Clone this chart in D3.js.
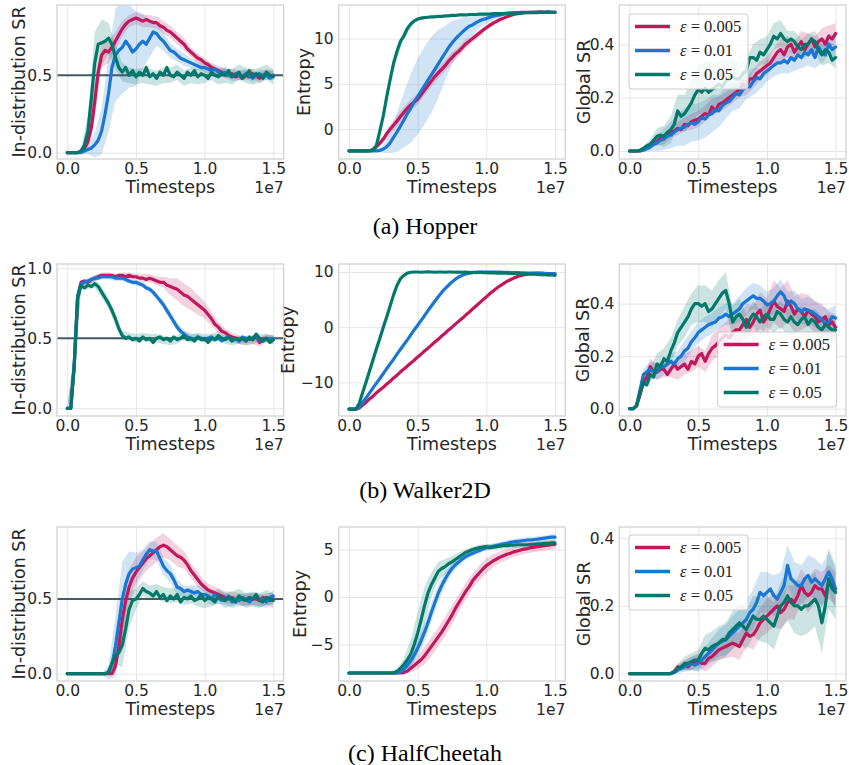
<!DOCTYPE html>
<html><head><meta charset="utf-8">
<script src="https://cdn.jsdelivr.net/npm/d3@7"></script>
<style>body{margin:0;background:#fff}svg{display:block}</style>
</head><body>
<svg id="chart" width="849" height="765"></svg>
<script>
// ---------- DATA (timesteps in units of 1e7) ----------
const timesteps = [0,0.025,0.05,0.075,0.1,0.125,0.15,0.175,0.2,0.225,
 0.25,0.275,0.3,0.325,0.35,0.375,0.4,0.425,0.45,0.475,
 0.5,0.525,0.55,0.575,0.6,0.625,0.65,0.675,0.7,0.725,
 0.75,0.775,0.8,0.825,0.85,0.875,0.9,0.925,0.95,0.975,
 1.0,1.025,1.05,1.075,1.1,1.125,1.15,1.175,1.2,1.225,
 1.25,1.275,1.3,1.325,1.35,1.375,1.4,1.425,1.45,1.475,
 1.5];
const bandTimesteps = [0,0.05,0.1,0.15,0.2,0.25,0.3,0.35,0.4,0.45,
 0.5,0.55,0.6,0.65,0.7,0.75,0.8,0.85,0.9,0.95,
 1.0,1.05,1.1,1.15,1.2,1.25,1.3,1.35,1.4,1.45,1.5];
const seriesEps = ["0.005","0.01","0.05"];
const seriesColors = ["#C2185B","#1976D2","#00796B"];
const xTickValues = [0,0.5,1.0,1.5];
const xTickLabels = ["0.0","0.5","1.0","1.5"];
const captions = ["(a) Hopper","(b) Walker2D","(c) HalfCheetah"];

// Hopper: in-distribution SR
const hopperInd005 = [0,0,0,0,0.01,0.03,0.07,0.16,0.33,0.52,
 0.63,0.66,0.65,0.68,0.72,0.76,0.80,0.83,0.85,0.86,
 0.87,0.86,0.85,0.86,0.85,0.84,0.84,0.82,0.81,0.79,
 0.78,0.76,0.74,0.72,0.70,0.67,0.65,0.63,0.61,0.60,
 0.58,0.57,0.55,0.54,0.53,0.52,0.51,0.50,0.51,0.49,
 0.50,0.48,0.50,0.49,0.51,0.50,0.48,0.50,0.51,0.49,
 0.50];
const hopperInd001 = [0,0,0,0,0,0.01,0.02,0.03,0.05,0.08,
 0.14,0.25,0.38,0.55,0.63,0.66,0.68,0.72,0.69,0.65,
 0.67,0.70,0.72,0.70,0.74,0.78,0.77,0.74,0.72,0.69,
 0.66,0.65,0.63,0.61,0.60,0.59,0.58,0.57,0.56,0.55,
 0.55,0.54,0.53,0.54,0.52,0.51,0.52,0.50,0.49,0.51,
 0.50,0.49,0.51,0.50,0.48,0.50,0.51,0.49,0.50,0.48,
 0.50];
const hopperInd05 = [0,0,0,0,0.01,0.05,0.14,0.35,0.58,0.70,
 0.71,0.72,0.74,0.70,0.62,0.55,0.52,0.55,0.50,0.53,
 0.49,0.52,0.50,0.55,0.49,0.51,0.48,0.52,0.50,0.55,
 0.50,0.49,0.52,0.50,0.48,0.52,0.50,0.53,0.49,0.51,
 0.50,0.48,0.52,0.50,0.49,0.51,0.50,0.53,0.49,0.50,
 0.52,0.48,0.50,0.53,0.49,0.51,0.50,0.48,0.52,0.50,
 0.49];
const hopperInd005Band = [0,0,0.01,0.05,0.12,0.08,0.07,0.06,0.05,0.04,
 0.04,0.04,0.04,0.04,0.04,0.04,0.04,0.04,0.03,0.03,
 0.03,0.03,0.03,0.03,0.03,0.03,0.03,0.03,0.03,0.03,0.03];
const hopperInd001Band = [0,0,0.01,0.03,0.08,0.15,0.25,0.30,0.30,0.27,
 0.24,0.18,0.12,0.08,0.06,0.05,0.04,0.04,0.03,0.03,
 0.03,0.03,0.03,0.03,0.03,0.03,0.03,0.03,0.03,0.03,0.03];
const hopperInd05Band = [0,0,0.02,0.10,0.20,0.15,0.10,0.08,0.06,0.05,
 0.05,0.05,0.05,0.05,0.05,0.05,0.05,0.05,0.05,0.05,
 0.05,0.05,0.05,0.05,0.05,0.05,0.05,0.05,0.05,0.05,0.05];

// Hopper: entropy
const hopperEnt005 = [-2.4,-2.4,-2.4,-2.4,-2.4,-2.4,-2.4,-2.25,-1.95,-1.55,
 -1.1,-0.5,0.0,0.45,0.9,1.4,1.85,2.3,2.7,3.0,
 3.3,3.8,4.3,4.8,5.3,5.8,6.2,6.6,7.0,7.5,
 7.9,8.3,8.6,9.0,9.4,9.7,10.0,10.3,10.6,10.9,
 11.2,11.45,11.7,11.9,12.1,12.25,12.4,12.55,12.65,12.75,
 12.8,12.85,12.9,12.9,12.9,12.9,12.95,12.9,12.95,12.9,
 12.9];
const hopperEnt001 = [-2.4,-2.4,-2.4,-2.4,-2.4,-2.4,-2.4,-2.4,-2.4,-2.35,
 -2.2,-1.95,-1.5,-0.9,-0.3,0.35,1.0,1.7,2.3,3.0,
 3.6,4.2,4.8,5.4,6.0,6.6,7.2,7.8,8.4,9.0,
 9.5,9.95,10.35,10.7,11.05,11.35,11.5,11.75,11.95,12.1,
 12.2,12.35,12.45,12.55,12.6,12.7,12.75,12.8,12.85,12.85,
 12.9,12.9,12.85,12.9,12.9,12.95,12.9,12.9,12.95,12.9,
 12.9];
const hopperEnt05 = [-2.4,-2.4,-2.4,-2.4,-2.4,-2.4,-2.4,-2.3,-1.8,-0.2,
 1.5,3.6,5.5,7.3,8.6,9.7,10.3,11.1,11.6,11.95,
 12.15,12.25,12.3,12.35,12.4,12.4,12.45,12.45,12.5,12.5,
 12.55,12.55,12.6,12.6,12.6,12.65,12.65,12.65,12.7,12.7,
 12.7,12.7,12.75,12.75,12.75,12.75,12.8,12.8,12.8,12.8,
 12.8,12.85,12.85,12.85,12.85,12.85,12.9,12.9,12.9,12.9,
 12.9];
const hopperEnt005Band = [0,0,0,0.05,0.2,0.4,0.5,0.6,0.6,0.6,
 0.6,0.6,0.6,0.6,0.6,0.6,0.5,0.5,0.4,0.4,
 0.3,0.3,0.2,0.15,0.1,0.1,0.1,0.1,0.1,0.1,0.1];
const hopperEnt001Band = [0,0,0,0,0.1,0.4,1.2,2.2,3.0,3.8,
 4.2,4.3,4.2,3.8,3.0,2.4,1.8,1.4,1.1,0.8,
 0.6,0.4,0.25,0.1,0.1,0.1,0.1,0.1,0.1,0.1,0.1];
const hopperEnt05Band = [0,0,0,0.1,0.4,0.6,0.6,0.7,0.5,0.3,
 0.2,0.15,0.1,0.1,0.1,0.1,0.1,0.1,0.1,0.1,
 0.1,0.1,0.1,0.1,0.1,0.1,0.1,0.1,0.1,0.1,0.1];

// Hopper: global SR
const hopperGlob005 = [0,0,0,0,0.005,0.01,0.02,0.03,0.035,0.05,
 0.045,0.06,0.07,0.075,0.085,0.08,0.1,0.095,0.11,0.115,
 0.12,0.13,0.14,0.135,0.165,0.15,0.175,0.18,0.19,0.2,
 0.21,0.22,0.23,0.25,0.24,0.27,0.27,0.29,0.3,0.31,
 0.32,0.33,0.35,0.37,0.38,0.36,0.39,0.4,0.37,0.39,
 0.41,0.38,0.4,0.42,0.39,0.41,0.42,0.4,0.43,0.42,
 0.44];
const hopperGlob001 = [0,0,0,0,0.003,0.008,0.015,0.025,0.03,0.04,
 0.045,0.055,0.06,0.07,0.08,0.085,0.09,0.1,0.105,0.1,
 0.11,0.125,0.12,0.135,0.14,0.155,0.15,0.17,0.18,0.185,
 0.2,0.215,0.21,0.23,0.245,0.24,0.26,0.275,0.27,0.29,
 0.3,0.31,0.32,0.33,0.33,0.34,0.33,0.35,0.34,0.36,
 0.35,0.37,0.36,0.38,0.35,0.39,0.37,0.36,0.4,0.38,
 0.39];
const hopperGlob05 = [0,0,0,0.003,0.01,0.02,0.025,0.04,0.055,0.06,
 0.055,0.07,0.08,0.1,0.15,0.13,0.14,0.16,0.18,0.21,
 0.23,0.22,0.235,0.22,0.23,0.24,0.25,0.24,0.26,0.27,
 0.28,0.27,0.27,0.29,0.3,0.35,0.35,0.34,0.37,0.36,
 0.38,0.4,0.43,0.42,0.44,0.42,0.41,0.42,0.41,0.39,
 0.38,0.4,0.4,0.42,0.41,0.38,0.36,0.38,0.37,0.34,
 0.35];
const hopperGlob005Band = [0,0,0.005,0.01,0.015,0.02,0.02,0.025,0.025,0.03,
 0.03,0.03,0.03,0.03,0.03,0.03,0.03,0.03,0.035,0.035,
 0.035,0.035,0.04,0.04,0.04,0.04,0.04,0.04,0.04,0.04,0.04];
const hopperGlob001Band = [0,0,0.005,0.015,0.03,0.04,0.05,0.06,0.07,0.07,
 0.07,0.07,0.07,0.06,0.06,0.05,0.05,0.05,0.05,0.04,
 0.04,0.04,0.04,0.04,0.04,0.04,0.04,0.04,0.04,0.04,0.04];
const hopperGlob05Band = [0,0,0.005,0.02,0.03,0.04,0.05,0.06,0.07,0.08,
 0.09,0.1,0.1,0.09,0.08,0.07,0.06,0.05,0.05,0.05,
 0.05,0.05,0.05,0.04,0.04,0.04,0.04,0.04,0.04,0.04,0.04];

// Walker2D: in-distribution SR
const walkerInd005 = [0,0,0.3,0.8,0.9,0.91,0.9,0.92,0.93,0.94,
 0.95,0.95,0.95,0.95,0.94,0.95,0.95,0.94,0.95,0.94,
 0.94,0.93,0.93,0.92,0.93,0.92,0.91,0.9,0.9,0.88,
 0.87,0.86,0.85,0.83,0.81,0.8,0.78,0.76,0.74,0.72,
 0.7,0.67,0.64,0.6,0.58,0.55,0.54,0.52,0.51,0.5,
 0.49,0.5,0.48,0.5,0.49,0.52,0.47,0.49,0.5,0.48,
 0.49];
const walkerInd001 = [0,0,0.3,0.8,0.89,0.9,0.91,0.92,0.93,0.93,
 0.94,0.94,0.94,0.94,0.93,0.93,0.93,0.92,0.91,0.9,
 0.9,0.89,0.88,0.86,0.85,0.83,0.8,0.77,0.74,0.7,
 0.66,0.62,0.58,0.55,0.53,0.51,0.5,0.49,0.51,0.5,
 0.49,0.5,0.51,0.49,0.5,0.48,0.5,0.51,0.49,0.5,
 0.48,0.51,0.5,0.49,0.5,0.52,0.49,0.48,0.5,0.49,
 0.5];
const walkerInd05 = [0,0,0.3,0.78,0.88,0.86,0.88,0.87,0.89,0.87,
 0.83,0.79,0.75,0.7,0.64,0.57,0.52,0.5,0.51,0.49,
 0.5,0.48,0.51,0.49,0.5,0.47,0.5,0.51,0.49,0.5,
 0.48,0.51,0.49,0.5,0.52,0.49,0.5,0.48,0.51,0.49,
 0.5,0.47,0.5,0.49,0.52,0.5,0.49,0.51,0.48,0.5,
 0.49,0.5,0.48,0.51,0.49,0.53,0.5,0.48,0.5,0.47,
 0.49];
const walkerInd005Band = [0,0.1,0.02,0.02,0.02,0.02,0.02,0.02,0.02,0.02,
 0.02,0.03,0.03,0.03,0.04,0.06,0.08,0.08,0.08,0.07,
 0.06,0.05,0.04,0.03,0.03,0.03,0.03,0.03,0.03,0.03,0.03];
const walkerInd001Band = [0,0.1,0.02,0.02,0.02,0.02,0.02,0.02,0.02,0.02,
 0.02,0.02,0.02,0.02,0.03,0.03,0.03,0.03,0.03,0.02,
 0.02,0.02,0.02,0.02,0.02,0.02,0.02,0.02,0.02,0.02,0.02];
const walkerInd05Band = [0,0.1,0.03,0.03,0.03,0.04,0.04,0.04,0.03,0.03,
 0.03,0.03,0.03,0.03,0.03,0.03,0.03,0.03,0.03,0.03,
 0.03,0.03,0.03,0.03,0.03,0.03,0.03,0.03,0.03,0.03,0.03];

// Walker2D: entropy
const walkerEnt005 = [-14.85,-14.85,-14.85,-14.65,-14.1,-13.6,-13.0,-12.5,-11.9,-11.4,
 -10.9,-10.3,-9.8,-9.2,-8.7,-8.1,-7.6,-7.05,-6.5,-6.0,
 -5.4,-4.9,-4.3,-3.8,-3.25,-2.7,-2.2,-1.6,-1.1,-0.5,
 0.0,0.55,1.1,1.6,2.2,2.7,3.3,3.85,4.4,4.95,
 5.5,6.05,6.55,7.05,7.5,7.9,8.3,8.6,8.9,9.15,
 9.35,9.5,9.6,9.7,9.75,9.8,9.8,9.75,9.7,9.65,
 9.6];
const walkerEnt001 = [-14.85,-14.85,-14.85,-14.5,-13.65,-12.8,-11.9,-11.0,-10.15,-9.3,
 -8.4,-7.5,-6.65,-5.8,-4.9,-4.0,-3.15,-2.3,-1.4,-0.5,
 0.35,1.2,2.1,3.0,3.85,4.7,5.5,6.3,7.0,7.6,
 8.2,8.7,9.1,9.4,9.65,9.8,9.9,9.95,10.0,10.0,
 10.0,10.0,10.0,10.0,10.0,9.95,9.95,9.9,9.9,9.9,
 9.85,9.85,9.8,9.8,9.8,9.75,9.75,9.7,9.7,9.7,
 9.7];
const walkerEnt05 = [-14.85,-14.85,-14.85,-13.8,-11.8,-9.9,-7.9,-5.9,-3.9,-2.0,
 0.0,1.9,3.9,5.9,7.6,8.8,9.4,9.8,9.95,10.0,
 10.0,9.95,10.0,10.05,10.0,9.95,10.0,10.0,9.95,10.0,
 10.0,9.95,10.0,9.95,10.0,9.9,9.95,9.9,9.95,9.9,
 9.9,9.85,9.9,9.8,9.85,9.8,9.8,9.75,9.7,9.75,
 9.7,9.65,9.7,9.6,9.6,9.55,9.5,9.55,9.45,9.5,
 9.4];
const walkerEnt005Band = [0,0,0.05,0.1,0.15,0.15,0.15,0.15,0.15,0.15,
 0.15,0.15,0.15,0.15,0.15,0.15,0.15,0.15,0.15,0.15,
 0.15,0.15,0.15,0.15,0.15,0.15,0.15,0.15,0.15,0.15,0.15];
const walkerEnt001Band = [0,0,0.05,0.1,0.15,0.15,0.15,0.15,0.15,0.15,
 0.15,0.15,0.15,0.15,0.15,0.15,0.15,0.15,0.15,0.15,
 0.15,0.15,0.15,0.15,0.15,0.15,0.15,0.15,0.15,0.15,0.15];
const walkerEnt05Band = [0,0,0.1,0.2,0.2,0.2,0.2,0.2,0.15,0.15,
 0.15,0.15,0.15,0.15,0.15,0.15,0.15,0.15,0.15,0.15,
 0.2,0.2,0.2,0.2,0.2,0.25,0.25,0.25,0.25,0.25,0.25];

// Walker2D: global SR
const walkerGlob005 = [0,0,0.01,0.05,0.1,0.12,0.16,0.14,0.14,0.15,
 0.15,0.13,0.15,0.17,0.15,0.16,0.17,0.15,0.18,0.17,
 0.2,0.21,0.18,0.21,0.23,0.24,0.255,0.27,0.28,0.27,
 0.29,0.3,0.3,0.32,0.34,0.31,0.33,0.36,0.375,0.33,
 0.35,0.38,0.41,0.39,0.38,0.37,0.41,0.39,0.36,0.38,
 0.37,0.35,0.375,0.36,0.35,0.33,0.34,0.35,0.32,0.33,
 0.31];
const walkerGlob001 = [0,0,0.01,0.07,0.13,0.14,0.15,0.14,0.14,0.16,
 0.16,0.17,0.18,0.17,0.19,0.2,0.22,0.23,0.255,0.27,
 0.29,0.3,0.31,0.32,0.325,0.33,0.345,0.35,0.36,0.35,
 0.36,0.37,0.38,0.4,0.41,0.42,0.43,0.42,0.42,0.41,
 0.395,0.4,0.41,0.43,0.445,0.43,0.395,0.41,0.4,0.38,
 0.37,0.38,0.375,0.37,0.36,0.35,0.34,0.32,0.33,0.35,
 0.345];
const walkerGlob05 = [0,0,0.01,0.06,0.1,0.09,0.13,0.12,0.17,0.16,
 0.19,0.18,0.22,0.25,0.29,0.31,0.33,0.35,0.38,0.4,
 0.4,0.39,0.4,0.37,0.38,0.4,0.42,0.44,0.45,0.4,
 0.33,0.35,0.36,0.34,0.31,0.34,0.36,0.35,0.33,0.35,
 0.36,0.34,0.34,0.37,0.36,0.34,0.33,0.35,0.33,0.32,
 0.34,0.35,0.32,0.34,0.33,0.31,0.3,0.32,0.31,0.3,
 0.3];
const walkerGlob005Band = [0,0,0.02,0.03,0.03,0.03,0.03,0.04,0.04,0.04,
 0.04,0.04,0.05,0.05,0.05,0.06,0.06,0.06,0.06,0.07,
 0.07,0.08,0.08,0.08,0.07,0.07,0.06,0.06,0.06,0.05,0.05];
const walkerGlob001Band = [0,0,0.02,0.03,0.03,0.03,0.03,0.03,0.04,0.04,
 0.04,0.04,0.04,0.04,0.04,0.04,0.05,0.05,0.05,0.05,
 0.05,0.05,0.05,0.05,0.05,0.05,0.05,0.05,0.05,0.05,0.05];
const walkerGlob05Band = [0,0,0.02,0.03,0.04,0.04,0.05,0.05,0.06,0.06,
 0.07,0.07,0.07,0.07,0.07,0.06,0.06,0.05,0.05,0.05,
 0.05,0.05,0.05,0.05,0.05,0.05,0.05,0.05,0.05,0.05,0.05];

// HalfCheetah: in-distribution SR
const cheetahInd005 = [0,0,0,0,0,0,0,0,0,0,
 0,0,0,0,0.05,0.18,0.36,0.49,0.58,0.64,
 0.68,0.71,0.74,0.77,0.79,0.81,0.83,0.85,0.86,0.85,
 0.83,0.81,0.79,0.78,0.76,0.73,0.69,0.66,0.63,0.6,
 0.58,0.56,0.55,0.54,0.53,0.52,0.51,0.5,0.51,0.49,
 0.5,0.5,0.49,0.51,0.5,0.5,0.49,0.51,0.5,0.49,
 0.5];
const cheetahInd001 = [0,0,0,0,0,0,0,0,0,0,
 0,0,0.01,0.06,0.18,0.34,0.5,0.6,0.67,0.7,
 0.71,0.72,0.76,0.8,0.83,0.82,0.82,0.77,0.72,0.69,
 0.67,0.63,0.58,0.57,0.55,0.56,0.55,0.54,0.55,0.53,
 0.53,0.52,0.5,0.53,0.51,0.49,0.5,0.52,0.48,0.5,
 0.49,0.51,0.5,0.48,0.5,0.52,0.49,0.5,0.48,0.51,
 0.52];
const cheetahInd05 = [0,0,0,0,0,0,0,0,0,0,
 0,0,0.01,0.07,0.12,0.14,0.19,0.3,0.43,0.49,
 0.5,0.53,0.57,0.55,0.54,0.52,0.55,0.51,0.53,0.49,
 0.52,0.5,0.53,0.48,0.51,0.5,0.52,0.49,0.5,0.53,
 0.49,0.51,0.5,0.48,0.52,0.5,0.49,0.51,0.5,0.48,
 0.52,0.5,0.49,0.51,0.5,0.53,0.49,0.48,0.51,0.5,
 0.49];
const cheetahInd005Band = [0,0,0,0,0,0,0,0.05,0.15,0.12,
 0.1,0.08,0.08,0.08,0.08,0.07,0.07,0.06,0.05,0.05,
 0.04,0.04,0.04,0.04,0.04,0.04,0.04,0.04,0.04,0.04,0.04];
const cheetahInd001Band = [0,0,0,0,0,0,0.05,0.2,0.25,0.15,
 0.1,0.07,0.06,0.06,0.06,0.06,0.05,0.04,0.04,0.04,
 0.04,0.04,0.04,0.04,0.04,0.04,0.04,0.04,0.04,0.04,0.04];
const cheetahInd05Band = [0,0,0,0,0,0,0.02,0.05,0.15,0.12,
 0.07,0.05,0.05,0.05,0.05,0.05,0.05,0.05,0.05,0.05,
 0.05,0.05,0.05,0.05,0.05,0.05,0.05,0.05,0.05,0.05,0.05];

// HalfCheetah: entropy
const cheetahEnt005 = [-8,-8,-8,-8,-8,-8,-8,-8,-8,-8,
 -8,-8,-8,-8,-8,-8,-7.95,-7.8,-7.5,-7.2,
 -6.9,-6.6,-6.2,-5.7,-5.2,-4.7,-4.2,-3.7,-3.1,-2.5,
 -1.9,-1.2,-0.6,0.0,0.6,1.1,1.7,2.15,2.55,2.95,
 3.3,3.55,3.8,4.0,4.2,4.35,4.5,4.6,4.75,4.85,
 4.95,5.05,5.1,5.2,5.25,5.3,5.35,5.4,5.45,5.5,
 5.55];
const cheetahEnt001 = [-8,-8,-8,-8,-8,-8,-8,-8,-8,-8,
 -8,-8,-8,-8,-8,-7.9,-7.6,-7.2,-6.7,-6.1,
 -5.4,-4.6,-3.7,-2.7,-1.6,-0.6,0.4,1.2,1.9,2.5,
 3.0,3.4,3.7,4.0,4.25,4.45,4.6,4.75,4.9,5.05,
 5.2,5.25,5.35,5.45,5.5,5.6,5.65,5.75,5.8,5.85,
 5.9,5.95,6.0,6.0,6.05,6.1,6.15,6.2,6.25,6.3,
 6.3];
const cheetahEnt05 = [-8,-8,-8,-8,-8,-8,-8,-8,-8,-8,
 -8,-8,-8,-8,-7.8,-7.5,-7.1,-6.6,-6.0,-5.0,
 -3.8,-2.4,-0.9,0.4,1.3,2.0,2.7,3.0,3.2,3.5,
 3.7,3.95,4.2,4.45,4.7,4.85,5.0,5.1,5.2,5.25,
 5.3,5.2,5.25,5.3,5.35,5.4,5.4,5.45,5.45,5.5,
 5.5,5.5,5.5,5.55,5.55,5.6,5.6,5.65,5.65,5.7,
 5.7];
const cheetahEnt005Band = [0,0,0,0,0,0,0,0,0.1,0.4,
 0.7,0.9,1.0,1.0,1.0,1.0,0.9,0.9,0.8,0.8,
 0.8,0.7,0.6,0.6,0.5,0.5,0.5,0.5,0.5,0.5,0.5];
const cheetahEnt001Band = [0,0,0,0,0,0,0,0,0.2,0.5,
 0.8,1.0,1.0,0.9,0.7,0.5,0.4,0.3,0.3,0.3,
 0.3,0.3,0.3,0.3,0.3,0.3,0.3,0.3,0.3,0.3,0.3];
const cheetahEnt05Band = [0,0,0,0,0,0,0,0.2,0.7,1.5,
 2.2,2.0,1.3,1.0,0.8,0.6,0.5,0.3,0.3,0.3,
 0.3,0.3,0.3,0.3,0.3,0.3,0.3,0.3,0.3,0.3,0.3];

// HalfCheetah: global SR
const cheetahGlob005 = [0,0,0,0,0,0,0,0,0,0,
 0,0,0,0.005,0.02,0.015,0.025,0.02,0.03,0.035,
 0.04,0.03,0.03,0.045,0.05,0.06,0.07,0.075,0.08,0.085,
 0.09,0.085,0.08,0.1,0.12,0.11,0.115,0.13,0.15,0.16,
 0.17,0.18,0.19,0.2,0.18,0.19,0.21,0.22,0.21,0.23,
 0.26,0.24,0.23,0.24,0.26,0.25,0.25,0.23,0.27,0.26,
 0.25];
const cheetahGlob001 = [0,0,0,0,0,0,0,0,0,0,
 0,0,0,0.003,0.01,0.015,0.02,0.025,0.03,0.025,
 0.03,0.04,0.05,0.06,0.07,0.08,0.09,0.095,0.1,0.11,
 0.12,0.13,0.14,0.15,0.16,0.18,0.19,0.21,0.24,0.23,
 0.24,0.25,0.23,0.22,0.24,0.26,0.32,0.28,0.27,0.26,
 0.26,0.28,0.29,0.27,0.28,0.27,0.26,0.28,0.3,0.28,
 0.25];
const cheetahGlob05 = [0,0,0,0,0,0,0,0,0,0,
 0,0,0,0.005,0.015,0.02,0.03,0.03,0.035,0.04,
 0.04,0.06,0.075,0.07,0.08,0.085,0.09,0.1,0.1,0.12,
 0.13,0.14,0.15,0.14,0.13,0.15,0.17,0.16,0.16,0.17,
 0.16,0.15,0.14,0.17,0.2,0.21,0.23,0.21,0.2,0.2,
 0.19,0.2,0.2,0.21,0.22,0.2,0.15,0.2,0.28,0.25,
 0.24];
const cheetahGlob005Band = [0,0,0,0,0,0,0.005,0.01,0.015,0.02,
 0.02,0.025,0.03,0.03,0.035,0.04,0.04,0.04,0.045,0.045,
 0.05,0.05,0.05,0.05,0.05,0.05,0.05,0.05,0.05,0.05,0.05];
const cheetahGlob001Band = [0,0,0,0,0,0,0.005,0.01,0.015,0.02,
 0.025,0.03,0.035,0.04,0.045,0.05,0.05,0.055,0.06,0.06,
 0.06,0.06,0.06,0.06,0.06,0.06,0.06,0.06,0.06,0.06,0.06];
const cheetahGlob05Band = [0,0,0,0,0,0,0.005,0.01,0.02,0.025,
 0.03,0.04,0.045,0.05,0.05,0.055,0.06,0.06,0.06,0.065,
 0.07,0.07,0.07,0.075,0.08,0.08,0.08,0.08,0.09,0.09,0.08];

// y-axis tick values per kind
const srTicks = [0, 0.5];
const walkerSrTicks = [0, 0.5, 1.0];
const globTicks = [0, 0.2, 0.4];
const hopperEntTicks = [0, 5, 10];
const walkerEntTicks = [-10, 0, 10];
const cheetahEntTicks = [-5, 0, 5];

// ---------- LAYOUT ----------
const W = 849, H = 765;
const colLeft = [57, 338.7, 619.3], axW = 226.6;
const rowTop = [5, 264, 527], rowBottom = [159, 416, 681];
const tickFont = "'DejaVu Sans', sans-serif";
const textColor = "#262626";

const panels = [
 {r:0,c:0,m:[hopperInd005,hopperInd001,hopperInd05],b:[hopperInd005Band,hopperInd001Band,hopperInd05Band],dom:[-0.041,0.954],ticks:srTicks,fmt:".1f",lab:"In-distribution SR",labX:25,ref:0.5},
 {r:0,c:1,m:[hopperEnt005,hopperEnt001,hopperEnt05],b:[hopperEnt005Band,hopperEnt001Band,hopperEnt05Band],dom:[-3.3,13.7],ticks:hopperEntTicks,fmt:"d",lab:"Entropy",labX:309.5},
 {r:0,c:2,m:[hopperGlob005,hopperGlob001,hopperGlob05],b:[hopperGlob005Band,hopperGlob001Band,hopperGlob05Band],dom:[-0.03,0.547],ticks:globTicks,fmt:".1f",lab:"Global SR",labX:590,legend:{x:629,y:14}},
 {r:1,c:0,m:[walkerInd005,walkerInd001,walkerInd05],b:[walkerInd005Band,walkerInd001Band,walkerInd05Band],dom:[-0.055,1.031],ticks:walkerSrTicks,fmt:".1f",lab:"In-distribution SR",labX:25,ref:0.5},
 {r:1,c:1,m:[walkerEnt005,walkerEnt001,walkerEnt05],b:[walkerEnt005Band,walkerEnt001Band,walkerEnt05Band],dom:[-16.1,11.45],ticks:walkerEntTicks,fmt:"d",lab:"Entropy",labX:294},
 {r:1,c:2,m:[walkerGlob005,walkerGlob001,walkerGlob05],b:[walkerGlob005Band,walkerGlob001Band,walkerGlob05Band],dom:[-0.028,0.551],ticks:globTicks,fmt:".1f",lab:"Global SR",labX:588.5,legend:{x:717.7,y:332}},
 {r:2,c:0,m:[cheetahInd005,cheetahInd001,cheetahInd05],b:[cheetahInd005Band,cheetahInd001Band,cheetahInd05Band],dom:[-0.049,0.982],ticks:srTicks,fmt:".1f",lab:"In-distribution SR",labX:25,ref:0.5},
 {r:2,c:1,m:[cheetahEnt005,cheetahEnt001,cheetahEnt05],b:[cheetahEnt005Band,cheetahEnt001Band,cheetahEnt05Band],dom:[-8.84,7.37],ticks:cheetahEntTicks,fmt:"d",lab:"Entropy",labX:306},
 {r:2,c:2,m:[cheetahGlob005,cheetahGlob001,cheetahGlob05],b:[cheetahGlob005Band,cheetahGlob001Band,cheetahGlob05Band],dom:[-0.022,0.433],ticks:globTicks,fmt:".1f",lab:"Global SR",labX:590,legend:{x:629,y:535}}
];

const svg = d3.select("#chart");
svg.append("rect").attr("width", W).attr("height", H).attr("fill", "#fff");
const defs = svg.append("defs");

panels.forEach((p, k) => {
  const x0 = colLeft[p.c], y0 = rowTop[p.r], y1 = rowBottom[p.r];
  const x = d3.scaleLinear().domain([-0.075, 1.575]).range([x0, x0 + axW]);
  const y = d3.scaleLinear().domain(p.dom).range([y1, y0]);
  const g = svg.append("g");
  const cid = "clip" + k;
  defs.append("clipPath").attr("id", cid).append("rect")
    .attr("x", x0).attr("y", y0).attr("width", axW).attr("height", y1 - y0);

  // x axis + vertical grid
  const gx = g.append("g").attr("transform", `translate(0,${y1})`)
    .call(d3.axisBottom(x).tickValues(xTickValues)
      .tickFormat((d, i) => xTickLabels[i]).tickSize(-(y1 - y0)).tickPadding(4));
  // y axis + horizontal grid
  const gy = g.append("g").attr("transform", `translate(${x0},0)`)
    .call(d3.axisLeft(y).tickValues(p.ticks).tickFormat(d3.format(p.fmt))
      .tickSize(-axW).tickPadding(5));
  [gx, gy].forEach(a => {
    a.select(".domain").remove();
    a.selectAll(".tick line").attr("stroke", "#e6e6e6").attr("stroke-width", 1);
    a.selectAll(".tick text").attr("fill", textColor)
      .style("font-family", tickFont).style("font-size", "15.5px");
  });

  const plot = g.append("g").attr("clip-path", `url(#${cid})`);
  // bands
  p.m.forEach((mean, s) => {
    const band = p.b[s];
    const area = d3.area()
      .x((d, i) => x(bandTimesteps[i]))
      .y0((d, i) => y(mean[2 * i] - band[i]))
      .y1((d, i) => y(mean[2 * i] + band[i]));
    plot.append("path").datum(band).attr("d", area)
      .attr("fill", seriesColors[s]).attr("fill-opacity", 0.2);
  });
  // reference line
  if (p.ref !== undefined) {
    plot.append("line").attr("x1", x0).attr("x2", x0 + axW)
      .attr("y1", y(p.ref)).attr("y2", y(p.ref))
      .attr("stroke", "#455A64").attr("stroke-width", 2);
  }
  // mean lines
  p.m.forEach((mean, s) => {
    const line = d3.line().x((d, i) => x(timesteps[i])).y(d => y(d));
    plot.append("path").datum(mean).attr("d", line)
      .attr("fill", "none").attr("stroke", seriesColors[s])
      .attr("stroke-width", 3.2).attr("stroke-linejoin", "round").attr("stroke-linecap", "round");
  });
  // frame
  g.append("rect").attr("x", x0).attr("y", y0).attr("width", axW).attr("height", y1 - y0)
    .attr("fill", "none").attr("stroke", "#d2d2d2").attr("stroke-width", 1.3);

  // labels
  g.append("text").attr("x", x0 + axW / 2).attr("y", y1 + 34)
    .attr("text-anchor", "middle").attr("fill", textColor)
    .style("font-family", tickFont).style("font-size", "17.5px").text("Timesteps");
  g.append("text").attr("x", x0 + axW).attr("y", y1 + 34)
    .attr("text-anchor", "end").attr("fill", textColor)
    .style("font-family", tickFont).style("font-size", "15.5px").text("1e7");
  g.append("text").attr("transform", `translate(${p.labX},${(y0 + y1) / 2}) rotate(-90)`)
    .attr("text-anchor", "middle").attr("fill", textColor)
    .style("font-family", tickFont).style("font-size", "17.5px").text(p.lab);

  // legend
  if (p.legend) {
    const L = g.append("g").attr("transform", `translate(${p.legend.x},${p.legend.y})`);
    L.append("rect").attr("width", 119).attr("height", 75).attr("rx", 3)
      .attr("fill", "#fff").attr("fill-opacity", 0.8)
      .attr("stroke", "#cccccc").attr("stroke-width", 1);
    seriesEps.forEach((e, s) => {
      const ey = 12.5 + s * 24;
      L.append("line").attr("x1", 6).attr("x2", 41).attr("y1", ey).attr("y2", ey)
        .attr("stroke", seriesColors[s]).attr("stroke-width", 3.5);
      const t = L.append("text").attr("x", 51).attr("y", ey + 5.5)
        .attr("fill", "#1a1a1a").style("font-family", "'Liberation Serif', 'Times New Roman', serif")
        .style("font-size", "16.5px");
      t.append("tspan").attr("font-style", "italic").text("ε");
      t.append("tspan").text(" = " + e);
    });
  }
});

// captions
const capY = [234, 498, 761];
captions.forEach((c, i) => {
  svg.append("text").attr("x", 425).attr("y", capY[i]).attr("text-anchor", "middle")
    .attr("fill", "#000").style("font-family", "'Liberation Serif', 'Times New Roman', serif")
    .style("font-size", "24px").text(c);
});
</script>
</body></html>
